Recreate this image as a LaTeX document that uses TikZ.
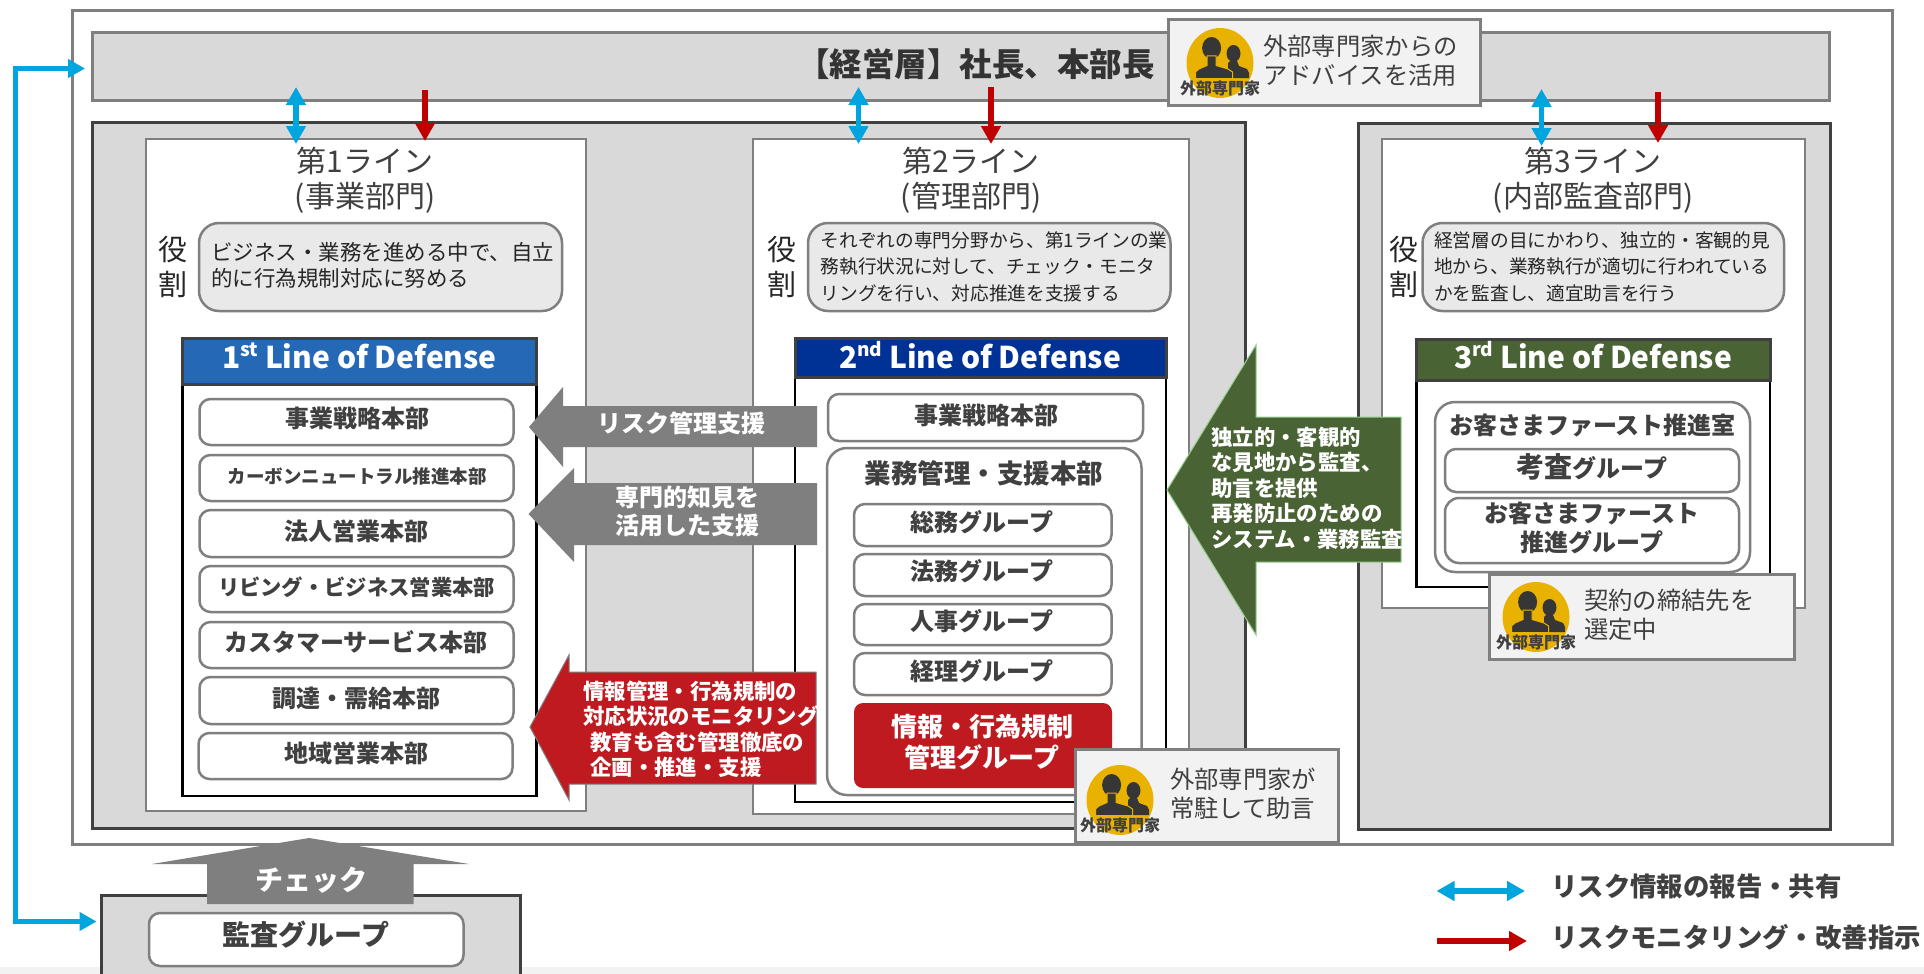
\documentclass[tikz,border=0pt]{standalone}
\usepackage{fontspec}
\setmainfont{Noto Sans CJK JP}
\usetikzlibrary{arrows.meta,shapes.geometric}
\definecolor{gr}{HTML}{7F7F7F}
\definecolor{dk}{HTML}{404040}
\definecolor{band}{HTML}{D9D9D9}
\definecolor{role}{HTML}{E9E9E9}
\definecolor{call}{HTML}{F2F2F2}
\definecolor{bluea}{HTML}{00A5E0}
\definecolor{reda}{HTML}{C00000}
\definecolor{redb}{HTML}{BF1A20}
\definecolor{hone}{HTML}{2568B5}
\definecolor{htwo}{HTML}{003296}
\definecolor{hthr}{HTML}{4A6335}
\definecolor{gold}{HTML}{EAB200}
\newcommand\fs[2]{\fontsize{#1}{#2}\selectfont}
\newcommand\bx[7][]{\node[#2,#1,inner sep=0pt,outer sep=0pt,minimum width={#5-#3},minimum height={#6-#4}] (#7) at ({(#3+#5)/2},{(#4+#6)/2}) {};}
\newcommand\sups[1]{\raisebox{0.42em}{\fs{19}{19}#1}}
\newcommand\expert[3]{%
  \node[ellipse,fill=gold,inner sep=0pt,outer sep=0pt,minimum width=67,minimum height=70] (#1) at (#2,#3) {};
  \begin{scope}[shift={(#2,#3)}]
    \fill[person] (13.5,-9.5) ellipse [x radius=7,y radius=8.5];
    \fill[person] (8,15) -- (8,0) -- (10,-2) -- (17,-2) -- (19,3) -- (27,6) -- (29,10) -- (29,15) -- cycle;
    \fill[person] (-8.4,-15) ellipse [x radius=9.5,y radius=11];
    \filldraw[person,draw=gold,line width=1pt] (-24.5,15.5) -- (-24.5,9) -- (-21,6) -- (-13,2.5) -- (-13,-7) -- (-4,-7) -- (-4,2.5) -- (8,6) -- (12.5,9) -- (12.5,15.5) -- cycle;
  \end{scope}
  \node[font=\bfseries\fs{16}{16},text=dk,inner sep=0pt] (#1l) at (#2,#3+25) {外部専門家};
}
\tikzset{
  x=1pt,y=-1pt,
  person/.style={fill=dk!85!black},
  outerbox/.style={draw=gr,line width=3pt,fill=white},
  grayband/.style={draw=gr,line width=3pt,fill=band},
  darkbox/.style={draw=dk,line width=3pt,fill=band},
  linebox/.style={draw=gr,line width=2.5pt,fill=white},
  rolebox/.style={draw=gr,line width=2.5pt,fill=role,rounded corners=20pt},
  defbody/.style={draw=black,line width=2.5pt,fill=white},
  pill/.style={draw=gr,line width=2.5pt,fill=white,rounded corners=11pt},
  bigpill/.style={draw=gr,line width=2.5pt,fill=white,rounded corners=20pt},
  redpill/.style={fill=redb,rounded corners=9pt},
  callout/.style={draw=gr,line width=3pt,fill=call},
  txt/.style={inner sep=0pt,text=dk},
  bold/.style={inner sep=0pt,text=dk,font=\bfseries\fs{24}{29}},
  whitebold/.style={inner sep=0pt,text=white,font=\bfseries\fs{21.4}{25.5},align=left},
  ttl/.style={inner sep=0pt,text=dk,font=\fs{30}{35},align=center},
  rl/.style={inner sep=0pt,text=black!85,font=\fs{29}{35},align=center},
  roletxt/.style={inner sep=0pt,text=black!85,anchor=west,align=left},
  calltxt/.style={inner sep=0pt,text=dk,anchor=west,align=left,font=\fs{24.3}{29}},
  hdr/.style={inner sep=0pt,text=white,font=\bfseries\fs{30}{32}},
  bluecon/.style={draw=bluea,line width=5.5pt},
  redcon/.style={draw=reda,line width=6pt},
}
\begin{document}
\begin{tikzpicture}
\useasboundingbox (0,0) rectangle (1924,974);
\fill[white] (0,0) rectangle (1924,974);
\fill[call] (0,967) rectangle (1924,974);
% frames
\bx{outerbox}{72}{11}{1892}{844}{outer}
\bx{grayband}{92}{33}{1829}{100}{top}
\node[inner sep=0pt,text=dk!80!black,font=\bfseries\fs{32.5}{36}] (toptxt) at (976,64) {【経営層】社長、本部長};
\bx{darkbox}{92}{122}{1245.5}{828}{leftbig}
\bx{darkbox}{1358}{123}{1830}{829}{rightbig}
\bx{linebox}{146}{139}{586}{811}{lone}
\bx{linebox}{753}{139}{1189}{814}{ltwo}
\bx{linebox}{1382}{139}{1805}{608}{lthree}
% titles
\node[ttl] (tone) at (365,180.5) {第1ライン\\(事業部門)};
\node[ttl] (ttwo) at (971,180.5) {第2ライン\\(管理部門)};
\node[ttl] (tthree) at (1593,180.5) {第3ライン\\(内部監査部門)};
\node[rl] (rone) at (173,266.5) {役\\割};
\node[rl] (rtwo) at (782,266.5) {役\\割};
\node[rl] (rthree) at (1404,266.5) {役\\割};
% role boxes
\bx{rolebox}{199}{223}{562}{311}{rbone}
\bx{rolebox}{808}{223}{1170.5}{311}{rbtwo}
\bx{rolebox}{1422.5}{223}{1784}{311}{rbthree}
\node[roletxt,font=\fs{21.5}{26}] (rtone) at (211,265) {ビジネス・業務を進める中で、自立\\的に行為規制対応に努める};
\node[roletxt,font=\fs{18.7}{26.5}] (rttwo) at (820.5,266.5) {それぞれの専門分野から、第1ラインの業\\務執行状況に対して、チェック・モニタ\\リングを行い、対応推進を支援する};
\node[roletxt,font=\fs{18.7}{26.5}] (rtthree) at (1434,266.5) {経営層の目にかわり、独立的・客観的見\\地から、業務執行が適切に行われている\\かを監査し、適宜助言を行う};
% defense 1
\bx{defbody}{182.6}{384}{536.6}{796}{done}
\bx[fill=hone]{draw=dk,line width=3pt}{182.6}{338}{536.6}{384}{hdone}
\node[hdr] (hone) at (359.5,356) {1\sups{st} Line of Defense};
\bx{pill}{199.5}{399}{513.5}{445}{a}
\bx{pill}{199.5}{455}{513.5}{501}{b}
\bx{pill}{199.5}{510}{513.5}{557}{c}
\bx{pill}{199.5}{566}{513.5}{612}{d}
\bx{pill}{199.5}{622}{513.5}{668}{e}
\bx{pill}{199.5}{677}{513.5}{724}{f}
\bx{pill}{198.5}{733}{512.5}{779}{g}
\node[bold] (at) at (357,418) {事業戦略本部};
\node[bold,font=\bfseries\fs{18.5}{22}] (bt) at (357,476) {カーボンニュートラル推進本部};
\node[bold] (ct) at (356.5,531) {法人営業本部};
\node[bold,font=\bfseries\fs{21.3}{25}] (dt) at (356.5,587) {リビング・ビジネス営業本部};
\node[bold] (et) at (356,642) {カスタマーサービス本部};
\node[bold] (ft) at (356,698) {調達・需給本部};
\node[bold] (gt) at (356,753) {地域営業本部};
% defense 2
\bx{defbody}{795}{377}{1166}{802}{dtwo}
\bx[fill=htwo]{draw=dk,line width=3pt}{795}{338}{1166}{377}{hdtwo}
\node[hdr] (htwot) at (980,355) {2\sups{nd} Line of Defense};
\bx{pill}{828}{394}{1143}{441}{h}
\node[bold] (ht) at (986,415) {事業戦略本部};
\bx{bigpill}{827}{448}{1141.5}{795}{i}
\node[bold,font=\bfseries\fs{26.5}{30}] (it) at (984,473) {業務管理・支援本部};
\bx{pill}{854}{504}{1111.5}{546}{j}
\bx{pill}{854}{554}{1111.5}{596}{k}
\bx{pill}{854}{604}{1111.5}{645}{l}
\bx{pill}{854}{653}{1111.5}{695}{m}
\node[bold] (jt) at (982,522) {総務グループ};
\node[bold] (kt) at (982,571) {法務グループ};
\node[bold] (lt) at (982,621) {人事グループ};
\node[bold] (mt) at (982,671) {経理グループ};
\bx{redpill}{854}{703}{1112}{788}{n}
\node[inner sep=0pt,text=white,font=\bfseries\fs{26}{31},align=center] (nt) at (982,742.5) {情報・行為規制\\管理グループ};
% defense 3
\bx{defbody}{1416.6}{380}{1770}{587}{dthree}
\bx[fill=hthr]{draw=dk,line width=3pt}{1416.6}{339}{1770}{380}{hdthree}
\node[hdr] (hthreet) at (1593,355) {3\sups{rd} Line of Defense};
\bx{bigpill}{1435}{402}{1750}{572}{o}
\node[bold] (ot) at (1592.5,425) {お客さまファースト推進室};
\bx{pill}{1445}{449}{1739}{492}{p}
\node[bold] (pt) at (1592,467) {\fs{28}{30}考査\fs{24}{30}グループ};
\bx[rounded corners=14pt]{pill}{1445}{498}{1739}{563}{q}
\node[bold,align=center] (qt) at (1592,527.5) {お客さまファースト\\推進グループ};
% block arrows
\fill[gr] (529,427) -- (563,387) -- (563,406) -- (817,406) -- (817,447) -- (563,447) -- (563,467) -- cycle;
\node[whitebold,font=\bfseries\fs{24}{29}] (arone) at (681,423) {リスク管理支援};
\fill[gr] (528.5,514) -- (574,468) -- (574,483) -- (817,483) -- (817,545) -- (574,545) -- (574,562) -- cycle;
\node[whitebold,font=\bfseries\fs{24}{28},align=center] (artwo) at (687,511) {専門的知見を\\活用した支援};
\filldraw[fill=redb,draw=gr,line width=1pt] (530,727) -- (569,655) -- (569,672) -- (816,672) -- (816,784) -- (569,784) -- (569,800) -- cycle;
\node[whitebold] (arthree) at (701,729.5) {情報管理・行為規制の\\対応状況のモニタリング\\\hspace*{7pt}教育も含む管理徹底の\\\hspace*{7pt}企画・推進・支援};
\filldraw[fill=hthr,draw=hthr!60!green!50!white,line width=1pt] (1167,490) -- (1256,345) -- (1256,417) -- (1401,417) -- (1401,562) -- (1256,562) -- (1256,635) -- cycle;
\node[whitebold,anchor=west] (argreen) at (1211,488) {独立的・客観的\\な見地から監査、\\助言を提供\\再発防止のための\\システム・業務監査};
% audit
\filldraw[fill=band,draw=dk,line width=3pt] (101,974) -- (101,895) -- (520,895) -- (520,974);
\bx{pill}{149}{913}{463.5}{966}{audit}
\node[bold,font=\bfseries\fs{28}{30}] (auditt) at (306,935) {監査グループ};
\fill[gr] (309,838) -- (469,864) -- (413.5,864) -- (413.5,904) -- (207,904) -- (207,864) -- (152,864) -- cycle;
\node[bold,text=white,font=\bfseries\fs{28}{30}] (checkt) at (311,880) {チェック};
% callouts
\bx{callout}{1168}{20}{1480}{105}{ca}
\expert{ea}{1220}{63}
\node[calltxt] (cat) at (1263,60.5) {外部専門家からの\\アドバイスを活用};
\bx{callout}{1075}{749}{1338}{842}{cb}
\expert{eb}{1120}{800}
\node[calltxt] (cbt) at (1170,793.5) {外部専門家が\\常駐して助言};
\bx{callout}{1489}{574}{1794}{659}{cc}
\expert{ec}{1536}{617}
\node[calltxt] (cct) at (1584,614.5) {契約の締結先を\\選定中};
% connectors
\coordinate (b1a) at (296,87); \coordinate (b1b) at (296,144);
\coordinate (r1a) at (425,90); \coordinate (r1b) at (425,141);
\coordinate (b2a) at (858.5,87); \coordinate (b2b) at (858.5,144);
\coordinate (r2a) at (991,87); \coordinate (r2b) at (991,144);
\coordinate (b3a) at (1541.5,89); \coordinate (b3b) at (1541.5,146);
\coordinate (r3a) at (1658,92); \coordinate (r3b) at (1658,143);
\draw[bluecon,{Triangle[length=18pt,width=19pt]}-{Triangle[length=18pt,width=19pt]}] (b1a) -- (b1b);
\draw[bluecon,{Triangle[length=18pt,width=19pt]}-{Triangle[length=18pt,width=19pt]}] (b2a) -- (b2b);
\draw[bluecon,{Triangle[length=18pt,width=19pt]}-{Triangle[length=18pt,width=19pt]}] (b3a) -- (b3b);
\draw[redcon,-{Triangle[length=18pt,width=19pt]}] (r1a) -- (r1b);
\draw[redcon,-{Triangle[length=18pt,width=19pt]}] (r2a) -- (r2b);
\draw[redcon,-{Triangle[length=18pt,width=19pt]}] (r3a) -- (r3b);
\coordinate (lbx) at (15.5,68.5);
\coordinate (lbto) at (85,68.5);
\coordinate (lby) at (15.5,921.5);
\coordinate (lbau) at (96.5,921.5);
\draw[bluecon,{Triangle[length=17pt,width=18pt]}-{Triangle[length=17pt,width=18pt]}] (lbto) -- (lbx) -- (lby) -- (lbau);
% legend
\coordinate (la) at (1436.5,891); \coordinate (lb) at (1525,891);
\coordinate (lc) at (1437,941); \coordinate (ld) at (1527,941);
\draw[bluecon,{Triangle[length=18pt,width=19pt]}-{Triangle[length=18pt,width=19pt]}] (la) -- (lb);
\draw[redcon,-{Triangle[length=18pt,width=19pt]}] (lc) -- (ld);
\node[bold,anchor=west,font=\bfseries\fs{26.4}{30}] (lgone) at (1551,886) {リスク情報の報告・共有};
\node[bold,anchor=west,font=\bfseries\fs{26.4}{30}] (lgtwo) at (1551,937) {リスクモニタリング・改善指示};
\end{tikzpicture}
\end{document}
